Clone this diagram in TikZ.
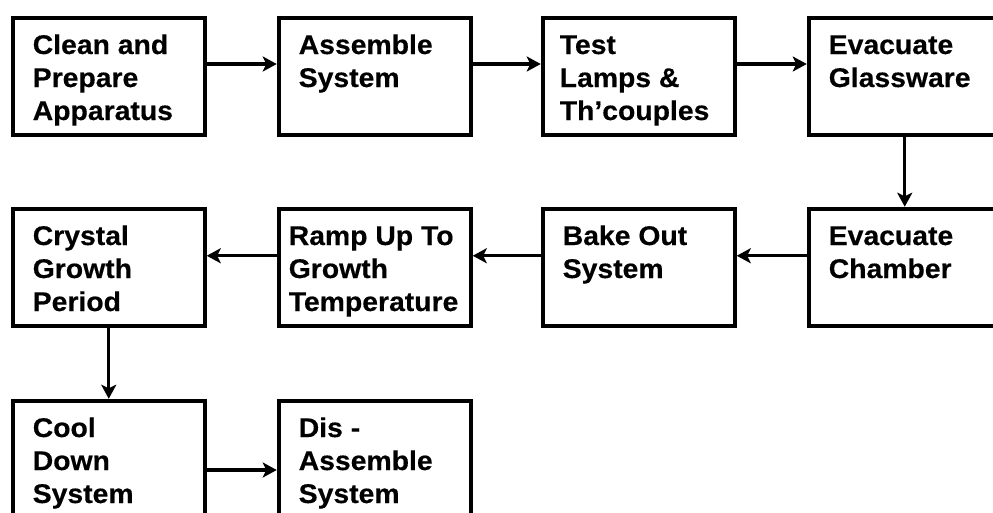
\documentclass[tikz,border=0pt]{standalone}
\usepackage{fontspec}
\setmainfont{Liberation Sans}[FakeStretch=1.05, BoldFeatures={FakeBold=0.4}]
\usetikzlibrary{arrows.meta}

\newcommand{\steplines}[2][20pt]{\parbox[t][117pt][t]{192pt}{\raggedright\leftskip=#1\vspace*{13.15pt}\strut#2}}
\tikzset{
 stepbox/.style={draw, line width=4pt, anchor=north west, inner sep=0pt, font=\fontsize{27}{33}\selectfont\bfseries},
 flow/.style={line width=3.4pt, -{Stealth[length=14pt,width=15pt,inset=3.5pt]}}
}

\begin{document}
\begin{tikzpicture}[x=1pt, y=-1pt]
 \useasboundingbox (0,0) rectangle (993,512);
 \clip (0,0) rectangle (993,512);
 \node[stepbox] (clean) at (10.75,15.75) {\steplines{Clean and\\Prepare\\Apparatus}};
 \node[stepbox] (assemble) at (276.75,15.75) {\steplines{Assemble\\System}};
 \node[stepbox] (test) at (540.75,15.75) {\steplines[17pt]{Test\\Lamps \&\\Th’couples}};
 \node[stepbox] (glass) at (806.75,15.75) {\steplines{Evacuate\\Glassware}};
 \node[stepbox] (chamber) at (806.75,206.75) {\steplines{Evacuate\\Chamber}};
 \node[stepbox] (bake) at (540.75,206.75) {\steplines{Bake Out\\System}};
 \node[stepbox] (ramp) at (276.75,206.75) {\steplines[10pt]{Ramp Up To\\Growth\\Temperature}};
 \node[stepbox] (crystal) at (10.75,206.75) {\steplines{Crystal\\Growth\\Period}};
 \node[stepbox] (cool) at (10.75,398.75) {\steplines{Cool\\Down\\System}};
 \node[stepbox] (disasm) at (276.75,398.75) {\steplines{Dis -\\Assemble\\System}};

 \draw[flow] ([yshift=12.25pt]clean.east) -- ([yshift=12.25pt]assemble.west);
 \draw[flow] ([yshift=12.25pt]assemble.east) -- ([yshift=12.25pt]test.west);
 \draw[flow] ([yshift=12.25pt]test.east) -- ([yshift=12.25pt]glass.west);
 \draw[flow] (glass.south) -- (chamber.north);
 \draw[flow] ([yshift=11.5pt]chamber.west) -- ([yshift=11.5pt]bake.east);
 \draw[flow] ([yshift=11.5pt]bake.west) -- ([yshift=11.5pt]ramp.east);
 \draw[flow] ([yshift=11.5pt]ramp.west) -- ([yshift=11.5pt]crystal.east);
 \draw[flow] (crystal.south) -- (cool.north);
 \draw[flow] ([yshift=-10.75pt]cool.east) -- ([yshift=-10.75pt]disasm.west);
\end{tikzpicture}
\end{document}
